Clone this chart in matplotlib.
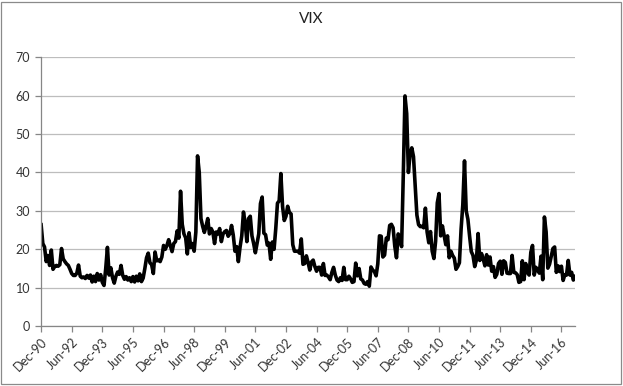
import matplotlib
matplotlib.use("Agg")
import matplotlib.pyplot as plt
from matplotlib.patches import Rectangle

plt.rcParams['font.family'] = ['Lato', 'DejaVu Sans']

# month-end VIX closes, Dec-90 .. Feb-17
v1990 = [26.4]
v1991 = [21.5, 20.6, 16.8, 18.4, 15.8, 19.8, 14.8, 15.5, 15.8, 15.6, 16.0, 20.2]
v1992 = [17.5, 16.8, 16.2, 15.8, 14.8, 13.7, 13.2, 13.2, 13.8, 15.9, 13.0, 12.6]
v1993 = [12.8, 12.4, 13.2, 12.5, 13.3, 11.5, 13.0, 11.6, 13.7, 12.0, 13.4, 11.4]
v1994 = [10.6, 15.0, 20.5, 13.3, 15.2, 12.6, 11.2, 13.0, 14.1, 13.5, 15.8, 13.2]
v1995 = [12.2, 12.9, 12.0, 12.6, 11.6, 12.9, 11.5, 13.0, 11.8, 13.6, 11.6, 12.5]
v1996 = [15.0, 17.8, 19.0, 16.5, 16.0, 13.7, 19.3, 17.0, 17.2, 16.8, 18.0, 21.0]
v1997 = [20.0, 21.0, 22.5, 21.0, 19.4, 21.5, 22.0, 24.8, 22.9, 35.1, 26.5, 24.0]
v1998 = [23.0, 18.8, 24.3, 20.5, 21.5, 19.5, 24.5, 44.3, 40.0, 28.0, 26.0, 24.4]
v1999 = [26.0, 28.0, 24.0, 25.4, 24.5, 21.5, 24.5, 24.0, 25.4, 22.0, 24.0, 24.6]
v2000 = [24.9, 23.4, 24.1, 26.2, 23.7, 19.5, 20.7, 16.8, 20.6, 23.5, 29.7, 26.9]
v2001 = [22.0, 28.0, 28.6, 23.5, 21.5, 19.1, 21.5, 24.0, 31.9, 33.6, 24.2, 23.8]
v2002 = [21.1, 21.6, 17.4, 21.9, 20.0, 25.4, 32.0, 32.6, 39.7, 31.1, 27.5, 28.6]
v2003 = [31.2, 29.6, 29.2, 21.2, 19.5, 19.5, 19.5, 19.0, 22.7, 16.1, 16.3, 18.3]
v2004 = [16.6, 14.6, 16.7, 17.2, 15.5, 14.3, 15.3, 15.3, 13.3, 16.3, 13.2, 13.3]
v2005 = [12.8, 12.1, 14.0, 15.3, 13.3, 12.0, 11.6, 12.6, 11.9, 15.3, 12.1, 12.1]
v2006 = [13.0, 12.3, 11.4, 11.6, 16.4, 13.1, 15.0, 12.3, 12.0, 11.1, 10.9, 11.6]
v2007 = [10.4, 15.4, 14.6, 14.2, 13.1, 16.2, 23.5, 23.4, 18.0, 18.5, 22.9, 22.5]
v2008 = [26.2, 26.5, 25.6, 20.8, 17.8, 24.0, 22.9, 20.7, 39.4, 59.9, 55.3, 40.0]
v2009 = [44.8, 46.4, 44.1, 36.5, 28.9, 26.4, 25.9, 26.0, 25.6, 30.7, 24.5, 21.7]
v2010 = [24.6, 19.5, 17.6, 22.1, 32.1, 34.5, 23.5, 26.1, 23.7, 21.2, 23.5, 17.8]
v2011 = [19.5, 18.4, 17.7, 14.8, 15.5, 16.5, 25.3, 31.6, 43.0, 30.0, 27.8, 23.4]
v2012 = [19.4, 18.4, 15.5, 17.2, 24.1, 17.1, 18.9, 17.5, 15.7, 18.6, 15.9, 18.0]
v2013 = [14.3, 15.5, 12.7, 13.5, 16.3, 16.9, 13.5, 17.0, 16.6, 13.8, 13.7, 13.7]
v2014 = [18.4, 14.0, 13.9, 13.4, 11.4, 11.6, 17.0, 12.1, 16.3, 14.0, 13.3, 19.2]
v2015 = [21.0, 13.3, 15.3, 14.6, 13.8, 18.2, 12.1, 28.4, 24.5, 15.1, 16.1, 18.2]
v2016 = [20.2, 20.6, 14.0, 15.7, 14.2, 15.6, 11.9, 13.4, 13.3, 17.1, 13.3, 14.0]
v2017 = [12.0, 12.9]

vix = (v1990 + v1991 + v1992 + v1993 + v1994 + v1995 + v1996 + v1997 + v1998
       + v1999 + v2000 + v2001 + v2002 + v2003 + v2004 + v2005 + v2006 + v2007
       + v2008 + v2009 + v2010 + v2011 + v2012 + v2013 + v2014 + v2015 + v2016
       + v2017)

# category labels shown every 18 months
tick_labels = ['Dec-90', 'Jun-92', 'Dec-93', 'Jun-95', 'Dec-96', 'Jun-98',
               'Dec-99', 'Jun-01', 'Dec-02', 'Jun-04', 'Dec-05', 'Jun-07',
               'Dec-08', 'Jun-10', 'Dec-11', 'Jun-13', 'Dec-14', 'Jun-16']
tick_step = 18

fig = plt.figure(figsize=(6.23, 3.86), dpi=100)
ax = fig.add_axes([0.066, 0.155, 0.857, 0.697])

x = list(range(len(vix)))
ax.plot(x, vix, color='black', linewidth=2.6, solid_joinstyle='round')

ax.set_xlim(0, len(vix) - 1)
ax.set_ylim(0, 70)
ax.set_yticks(range(0, 71, 10))
ax.set_xticks([i * tick_step for i in range(len(tick_labels))])
ax.set_xticklabels(tick_labels, rotation=45, ha='right', rotation_mode='anchor')

ax.grid(axis='y', color='#bdbdbd', linewidth=0.9)
ax.set_axisbelow(True)
for side in ['top', 'right']:
    ax.spines[side].set_visible(False)
for side in ['left', 'bottom']:
    ax.spines[side].set_color('#868686')
    ax.spines[side].set_linewidth(0.9)
ax.tick_params(axis='both', colors='#868686', labelcolor='#333333',
               labelsize=9, length=4, width=0.9)
ax.tick_params(axis='y', pad=4)
ax.tick_params(axis='x', pad=3)

fig.text(0.499, 0.95, 'VIX', ha='center', va='center', fontsize=11, color='#222222')

# chart-area border
fig.patches.append(Rectangle((0.002, 0.006), 0.994, 0.99, transform=fig.transFigure,
                             fill=False, edgecolor='#8a8a8a', linewidth=0.9))

fig.savefig('out.png', dpi=100)
